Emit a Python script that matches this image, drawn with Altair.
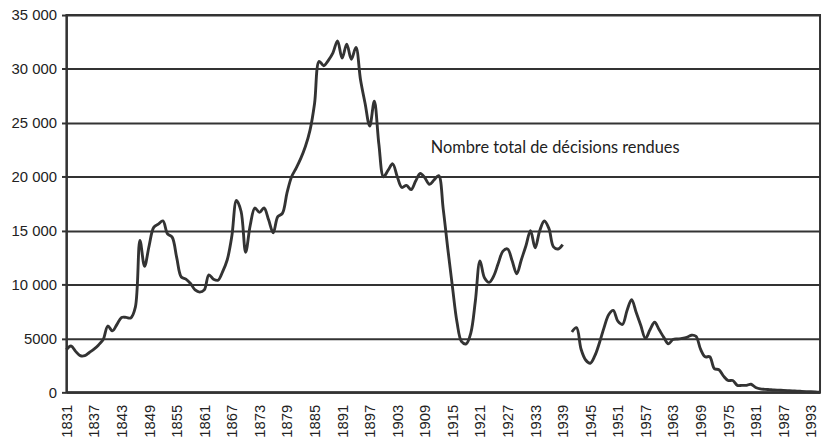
import altair as alt
import pandas as pd

# First segment: 1831-1939
years_a = list(range(1831, 1940))
values_a = [
    3950, 4300, 3800, 3400, 3400, 3700, 4000, 4400, 4900, 6150,   # 1831-1840
    5700, 6300, 6950, 6950, 6900, 7900, 14100, 11700, 13600, 15300,  # 1841-1850
    15600, 15900, 14700, 14400, 12500, 10700, 10500, 10100, 9500, 9300,  # 1851-1860
    9500, 10900, 10500, 10400, 11200, 12300, 14500, 17800, 16800, 13000,  # 1861-1870
    15500, 17100, 16700, 17100, 16000, 14800, 16300, 16600, 18500, 20000,  # 1871-1880
    20800, 21700, 22800, 24300, 26800, 30700, 30300, 30800, 31500, 32600,  # 1881-1890
    31000, 32300, 30900, 32000, 29000, 26800, 24700, 27000, 23000, 20000,  # 1891-1900
    20600, 21200, 20000, 19000, 19200, 18800, 19600, 20300, 19900, 19300,  # 1901-1910
    19700, 20100, 17000, 13300, 9800, 6500, 4700, 4500, 5500, 8500,  # 1911-1920
    12200, 10600, 10200, 10800, 12000, 13100, 13300, 12200, 11000, 12300,  # 1921-1930
    13600, 15000, 13400, 15000, 15900, 15200, 13500, 13300, 13700,  # 1931-1939
]

# Second segment: 1941-1995
years_b = list(range(1941, 1996))
values_b = [
    5600, 6000, 4000, 3000, 2700, 3400, 4600, 6000, 7200, 7600,  # 1941-1950
    6600, 6300, 7600, 8600, 7400, 6200, 5000, 5800, 6500, 5800,  # 1951-1960
    5100, 4500, 4900, 4950, 5000, 5100, 5300, 5200, 4000, 3300,  # 1961-1970
    3300, 2200, 2100, 1500, 1100, 1100, 650, 650, 650, 750,      # 1971-1980
    450, 320, 280, 250, 220, 200, 180, 160, 140, 110,            # 1981-1990
    90, 70, 50, 30, 10,                                          # 1991-1995
]

tick_years = list(range(1831, 1994, 6))
y_ticks = [0, 5000, 10000, 15000, 20000, 25000, 30000, 35000]

label_text = ["Nombre total de décisions rendues"]
label_year = [1910.3]
label_value = [22700]

df = pd.DataFrame({
    "year": years_a + years_b,
    "value": values_a + values_b,
    "segment": ["a"] * len(years_a) + ["b"] * len(years_b),
})
lab = pd.DataFrame({"year": label_year, "value": label_value, "text": label_text})

x_scale = alt.Scale(domain=[1831, 1995], nice=False, zero=False)
y_scale = alt.Scale(domain=[0, 35000], nice=False)

x_axis = alt.Axis(values=tick_years, format="d", labelAngle=270,
                  labelOverlap=False,
                  ticks=False, grid=False, labelPadding=12,
                  labelFontSize=15, labelFont="Liberation Sans",
                  labelColor="#222222", domainColor="#333333",
                  domainWidth=2)
y_axis = alt.Axis(values=y_ticks, grid=True, gridColor="#333333",
                  gridWidth=2, gridOpacity=1, tickSize=5,
                  tickColor="#333333", tickWidth=2, labelPadding=5,
                  labelFontSize=15, labelFont="Liberation Sans",
                  labelColor="#222222", domainColor="#333333",
                  domainWidth=2,
                  labelExpr="datum.value >= 10000 ? replace(format(datum.value, ','), ',', ' ') : format(datum.value, 'd')")

line = alt.Chart(df).mark_line(
    interpolate="catmull-rom", color="#333333", strokeWidth=2.9
).encode(
    x=alt.X("year:Q", scale=x_scale, title=None, axis=x_axis),
    y=alt.Y("value:Q", scale=y_scale, title=None, axis=y_axis),
    detail="segment:N",
)

text = alt.Chart(lab).mark_text(
    align="left", baseline="middle", font="Lato", fontSize=16.5, color="#222222"
).encode(
    x=alt.X("year:Q", scale=x_scale, title=None, axis=x_axis),
    y=alt.Y("value:Q", scale=y_scale, title=None, axis=y_axis),
    text="text:N",
)

chart = alt.layer(line, text).properties(
    width=761, height=381,
    autosize=alt.AutoSizeParams(type="none"),
    padding={"left": 59, "top": 5, "right": 3, "bottom": 45},
).configure_view(stroke="#333333", strokeWidth=2)

chart.save("out.html", embed_options={"renderer": "svg", "actions": False})
